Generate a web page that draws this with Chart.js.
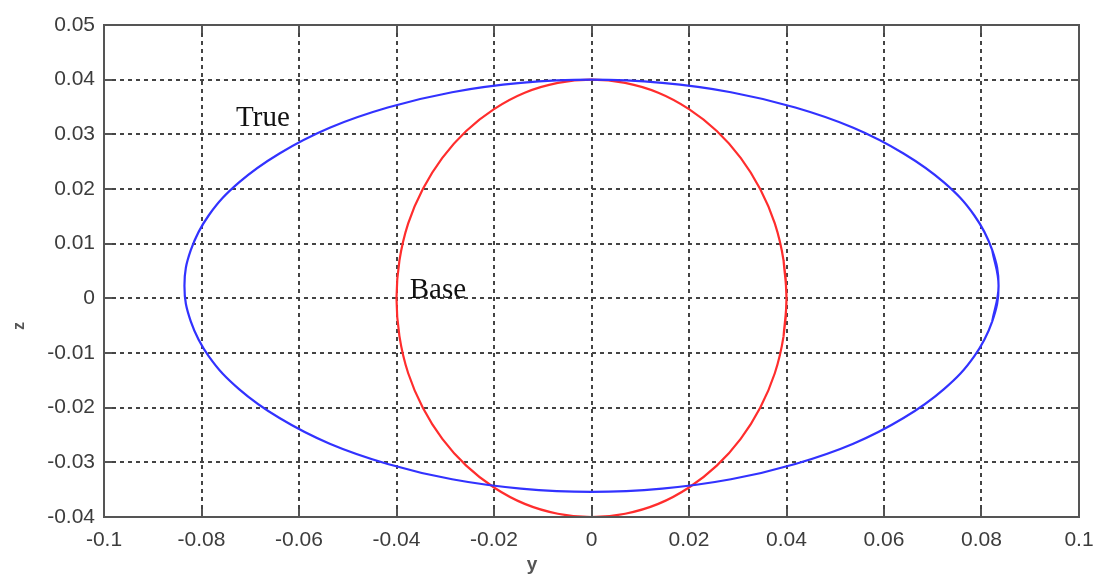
<!DOCTYPE html>
<html>
<head>
<meta charset="utf-8">
<script src="https://cdn.jsdelivr.net/npm/chart.js@4/dist/chart.umd.min.js"></script>
<style>
  html, body { margin: 0; padding: 0; background: #fff; }
  #wrap { width: 1094px; height: 581px; }
</style>
</head>
<body>
<div id="wrap"><canvas id="chart"></canvas></div>
<script>
// points, going round each curve (first and last overlap so the loop closes smoothly)
const trueY = [0.0822,
  0.0835, 0.0822, 0.0785, 0.0723, 0.0640, 0.0537, 0.0418, 0.0286, 0.0145, 0,
  -0.0145, -0.0286, -0.0418, -0.0537, -0.0640, -0.0723, -0.0785, -0.0822, -0.0835,
  -0.0822, -0.0785, -0.0723, -0.0640, -0.0537, -0.0418, -0.0286, -0.0145, 0,
  0.0145, 0.0286, 0.0418, 0.0537, 0.0640, 0.0723, 0.0785, 0.0822, 0.0835,
  0.0822]
const trueZ = [-0.0042,
  0.0023, 0.0088, 0.0152, 0.0212, 0.0265, 0.0312, 0.0349, 0.0377, 0.0394, 0.0400,
  0.0394, 0.0377, 0.0349, 0.0312, 0.0265, 0.0212, 0.0152, 0.0088, 0.0023,
  -0.0042, -0.0106, -0.0166, -0.0219, -0.0266, -0.0303, -0.0331, -0.0348, -0.0354,
  -0.0348, -0.0331, -0.0303, -0.0266, -0.0219, -0.0166, -0.0106, -0.0042, 0.0023,
  0.0088]

const baseY = [0.0394,
  0.04, 0.0394, 0.0376, 0.0346, 0.0306, 0.0257, 0.0200, 0.0137, 0.0069, 0,
  -0.0069, -0.0137, -0.0200, -0.0257, -0.0306, -0.0346, -0.0376, -0.0394, -0.04,
  -0.0394, -0.0376, -0.0346, -0.0306, -0.0257, -0.0200, -0.0137, -0.0069, 0,
  0.0069, 0.0137, 0.0200, 0.0257, 0.0306, 0.0346, 0.0376, 0.0394, 0.04,
  0.0394]
const baseZ = [-0.0069,
  0, 0.0069, 0.0137, 0.0200, 0.0257, 0.0306, 0.0346, 0.0376, 0.0394, 0.04,
  0.0394, 0.0376, 0.0346, 0.0306, 0.0257, 0.0200, 0.0137, 0.0069, 0,
  -0.0069, -0.0137, -0.0200, -0.0257, -0.0306, -0.0346, -0.0376, -0.0394, -0.04,
  -0.0394, -0.0376, -0.0346, -0.0306, -0.0257, -0.0200, -0.0137, -0.0069, 0,
  0.0069]

const xTicks = [-0.1, -0.08, -0.06, -0.04, -0.02, 0, 0.02, 0.04, 0.06, 0.08, 0.1]
const yTicks = [-0.04, -0.03, -0.02, -0.01, 0, 0.01, 0.02, 0.03, 0.04, 0.05]

const labels = [
  { text: 'True', y: -0.0674, z: 0.033 },
  { text: 'Base', y: -0.0315, z: 0.0015 },
]

const toPoints = (xs, ys) => xs.map((x, i) => ({ x: x, y: ys[i] }))

const fmt = (v) => {
  const r = Math.round(v * 1000) / 1000
  return r === 0 ? '0' : String(r)
}

// frame, inward tick marks, curve labels and the two axis names
const framePlugin = {
  id: 'frame',
  afterDraw(chart) {
    const { ctx, chartArea: a, scales } = chart
    ctx.save()
    ctx.strokeStyle = '#555'
    ctx.lineWidth = 2
    ctx.strokeRect(a.left, a.top, a.right - a.left, a.bottom - a.top)
    ctx.beginPath()
    xTicks.forEach((t) => {
      const px = Math.round(scales.x.getPixelForValue(t))
      ctx.moveTo(px, a.bottom); ctx.lineTo(px, a.bottom - 8)
      ctx.moveTo(px, a.top); ctx.lineTo(px, a.top + 8)
    })
    yTicks.forEach((t) => {
      const py = Math.round(scales.y.getPixelForValue(t))
      ctx.moveTo(a.left, py); ctx.lineTo(a.left + 8, py)
      ctx.moveTo(a.right, py); ctx.lineTo(a.right - 8, py)
    })
    ctx.stroke()

    ctx.fillStyle = '#111'
    ctx.font = '29px "Liberation Serif", serif'
    ctx.textAlign = 'center'
    ctx.textBaseline = 'middle'
    labels.forEach((l) => {
      ctx.fillText(l.text, scales.x.getPixelForValue(l.y), scales.y.getPixelForValue(l.z))
    })

    ctx.fillStyle = '#555'
    ctx.font = 'bold 19px "Liberation Sans", Arial, sans-serif'
    ctx.fillText('y', 532, 565)
    ctx.translate(20, 326)
    ctx.rotate(-Math.PI / 2)
    ctx.font = 'bold 16px "Liberation Sans", Arial, sans-serif'
    ctx.fillText('z', 0, 0)
    ctx.restore()
  },
}

const gridStyle = {
  color: '#444',
  lineWidth: 2,
  drawTicks: false,
}

const tickFont = { family: '"Liberation Sans", Arial, sans-serif', size: 21 }

new Chart(document.getElementById('chart'), {
  type: 'scatter',
  data: {
    datasets: [
      {
        label: 'True',
        data: toPoints(trueY, trueZ),
        showLine: true,
        borderColor: 'rgb(50, 50, 255)',
        borderWidth: 2.2,
        pointRadius: 0,
        tension: 0.4,
        fill: false,
      },
      {
        label: 'Base',
        data: toPoints(baseY, baseZ),
        showLine: true,
        borderColor: 'rgb(255, 45, 45)',
        borderWidth: 2.2,
        pointRadius: 0,
        tension: 0.4,
        fill: false,
      },
    ],
  },
  options: {
    responsive: true,
    maintainAspectRatio: false,
    animation: false,
    layout: { padding: { top: 25, right: 15, left: 0, bottom: 0 } },
    plugins: {
      legend: { display: false },
      tooltip: { enabled: false },
    },
    scales: {
      x: {
        type: 'linear',
        min: -0.1,
        max: 0.1,
        afterBuildTicks: (s) => { s.ticks = xTicks.map((v) => ({ value: v })) },
        afterFit: (s) => {
          s.height = 64
          s.paddingLeft = 0
          s.paddingRight = 0
        },
        grid: gridStyle,
        border: { display: false, dash: [4, 4] },
        ticks: {
          padding: 11,
          color: '#3c3c3c',
          font: tickFont,
          callback: (v) => fmt(v),
          maxRotation: 0,
        },
      },
      y: {
        type: 'linear',
        min: -0.04,
        max: 0.05,
        afterBuildTicks: (s) => { s.ticks = yTicks.map((v) => ({ value: v })) },
        afterFit: (s) => {
          s.width = 104
          s.paddingTop = 0
          s.paddingBottom = 0
        },
        grid: gridStyle,
        border: { display: false, dash: [4, 4] },
        ticks: {
          padding: 9,
          color: '#3c3c3c',
          font: tickFont,
          callback: (v) => fmt(v),
        },
      },
    },
  },
  plugins: [framePlugin],
})
</script>
</body>
</html>
